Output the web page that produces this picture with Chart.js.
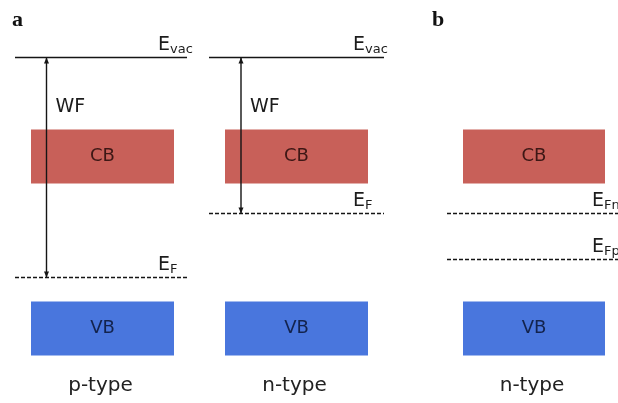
<!DOCTYPE html>
<html>
<head>
<meta charset="utf-8">
<script src="https://cdn.jsdelivr.net/npm/chart.js@4.4.1/dist/chart.umd.min.js"></script>
<style>
  html, body { margin: 0; padding: 0; background: #ffffff; }
  #wrap { width: 618px; height: 403px; position: relative; }
</style>
</head>
<body>
<div id="wrap"><canvas id="bands" width="618" height="403"></canvas></div>
<script>
// Band energies in eV, measured from the vacuum level (E_vac = 0).
const panelCaptions = ['p-type', 'n-type', 'n-type'];
const panelLetters = ['a', null, 'b'];
const cbTop = [-1.8, -1.8, -1.8];
const cbBottom = [-3.15, -3.15, -3.15];
const vbTop = [-6.1, -6.1, -6.1];
const vbBottom = [-7.45, -7.45, -7.45];
const vacuumLevel = [0, 0, null];
const fermiNames = [['F'], ['F'], ['Fn', 'Fp']];
const fermiLevels = [[-5.5], [-3.9], [-3.9, -5.05]];
const workFunction = [true, true, false];

// Horizontal layout of the three diagrams (canvas x coordinates).
const columns = [
  { box: [31, 174], line: [15, 187], arrow: 46.5, label: 158 },
  { box: [225, 368], line: [209, 384], arrow: 241, label: 353 },
  { box: [463, 605], line: [447, 618], arrow: null, label: 592 }
];

const CB_COLOR = 'rgb(200, 96, 89)';
const VB_COLOR = 'rgb(73, 118, 221)';
const LINE_COLOR = '#151515';
const FONT = '"DejaVu Sans", Verdana, sans-serif';

const datasets = [];
columns.forEach((col, i) => {
  // conduction band
  datasets.push({
    data: [{ x: col.box[0], y: cbTop[i] }, { x: col.box[1], y: cbTop[i] }],
    borderWidth: 0, backgroundColor: CB_COLOR, fill: { value: cbBottom[i] }, order: 2
  });
  // valence band
  datasets.push({
    data: [{ x: col.box[0], y: vbTop[i] }, { x: col.box[1], y: vbTop[i] }],
    borderWidth: 0, backgroundColor: VB_COLOR, fill: { value: vbBottom[i] }, order: 2
  });
  // vacuum level
  if (vacuumLevel[i] !== null) {
    datasets.push({
      data: [{ x: col.line[0], y: vacuumLevel[i] }, { x: col.line[1], y: vacuumLevel[i] }],
      borderColor: LINE_COLOR, borderWidth: 1.6, fill: false, order: 1
    });
  }
  // Fermi / quasi-Fermi levels
  fermiLevels[i].forEach(e => {
    datasets.push({
      data: [{ x: col.line[0], y: e }, { x: col.line[1], y: e }],
      borderColor: LINE_COLOR, borderWidth: 1.3, borderDash: [4, 2], fill: false, order: 1
    });
  });
  // work function shaft (drawn over the conduction band)
  if (workFunction[i]) {
    datasets.push({
      data: [{ x: col.arrow, y: vacuumLevel[i] }, { x: col.arrow, y: fermiLevels[i][0] }],
      borderColor: LINE_COLOR, borderWidth: 1.4, fill: false, isArrow: true, order: 0
    });
  }
});

function drawSub(ctx, x, baseY, main, sub, size) {
  ctx.textAlign = 'left';
  ctx.textBaseline = 'alphabetic';
  ctx.font = size + 'px ' + FONT;
  ctx.fillText(main, x, baseY);
  const w = ctx.measureText(main).width;
  ctx.font = Math.round(size * 0.7) + 'px ' + FONT;
  ctx.fillText(sub, x + w, baseY + 3);
}

const annotations = {
  id: 'bandAnnotations',
  afterDatasetsDraw(chart) {
    const ctx = chart.ctx;
    const xs = chart.scales.x, ys = chart.scales.y;
    ctx.save();
    // arrow heads on the work function arrows
    chart.data.datasets.forEach(ds => {
      if (!ds.isArrow) return;
      const px = xs.getPixelForValue(ds.data[0].x);
      const top = ys.getPixelForValue(ds.data[0].y);
      const bot = ys.getPixelForValue(ds.data[1].y);
      ctx.fillStyle = LINE_COLOR;
      ctx.beginPath();
      ctx.moveTo(px, top); ctx.lineTo(px - 2.5, top + 6); ctx.lineTo(px + 2.5, top + 6); ctx.closePath();
      ctx.fill();
      ctx.beginPath();
      ctx.moveTo(px, bot); ctx.lineTo(px - 2.5, bot - 6); ctx.lineTo(px + 2.5, bot - 6); ctx.closePath();
      ctx.fill();
    });

    columns.forEach((col, i) => {
      const cx = xs.getPixelForValue((col.box[0] + col.box[1]) / 2);
      ctx.fillStyle = '#1c1c1c';
      if (vacuumLevel[i] !== null) {
        const yv = ys.getPixelForValue(vacuumLevel[i]);
        drawSub(ctx, xs.getPixelForValue(col.label), yv - 7.5, 'E', 'vac', 19);
        if (workFunction[i]) {
          ctx.font = '19px ' + FONT;
          ctx.textAlign = 'left';
          ctx.fillText('WF', xs.getPixelForValue(col.arrow) + 9, yv + 54);
        }
      }
      fermiLevels[i].forEach((e, k) => {
        ctx.fillStyle = '#1c1c1c';
        drawSub(ctx, xs.getPixelForValue(col.label), ys.getPixelForValue(e) - 8, 'E', fermiNames[i][k], 19);
      });
      // band names
      ctx.textAlign = 'center';
      ctx.textBaseline = 'middle';
      ctx.font = '18px ' + FONT;
      ctx.fillStyle = '#3d1715';
      ctx.fillText('CB', cx, ys.getPixelForValue((cbTop[i] + cbBottom[i]) / 2));
      ctx.fillStyle = '#13234d';
      ctx.fillText('VB', cx, ys.getPixelForValue((vbTop[i] + vbBottom[i]) / 2));
      // caption
      ctx.fillStyle = '#222222';
      ctx.font = '20px ' + FONT;
      ctx.textBaseline = 'alphabetic';
      ctx.fillText(panelCaptions[i], cx - 2, 391);
      // panel letter
      if (panelLetters[i]) {
        ctx.font = 'bold 22px "Liberation Serif", "Times New Roman", serif';
        ctx.textAlign = 'left';
        ctx.fillStyle = '#111111';
        ctx.fillText(panelLetters[i], i === 0 ? 12 : 432, 26);
      }
    });
    ctx.restore();
  }
};

new Chart(document.getElementById('bands'), {
  type: 'line',
  data: { datasets },
  options: {
    responsive: false,
    animation: false,
    layout: { padding: 0 },
    elements: { point: { radius: 0 }, line: { tension: 0 } },
    plugins: { legend: { display: false }, tooltip: { enabled: false } },
    scales: {
      x: { type: 'linear', min: 0, max: 618, display: false },
      y: { type: 'linear', min: -8.6375, max: 1.4375, display: false }
    }
  },
  plugins: [annotations]
});
</script>
</body>
</html>
